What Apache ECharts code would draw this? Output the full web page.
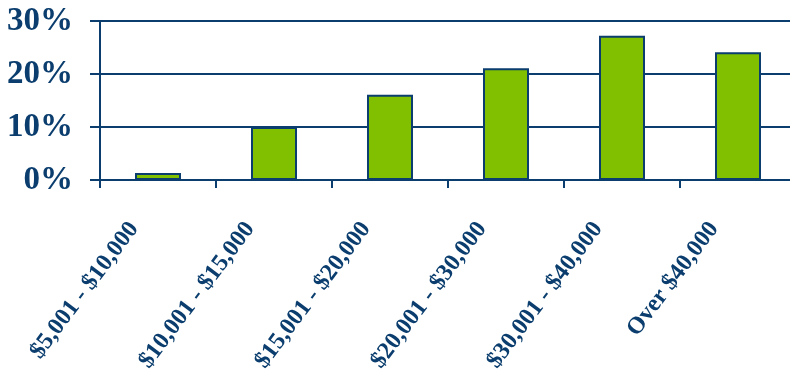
<!DOCTYPE html>
<html>
<head>
<meta charset="utf-8">
<script src="https://cdn.jsdelivr.net/npm/echarts@6/dist/echarts.min.js"></script>
<style>
html,body{margin:0;padding:0;background:#fff;}
#chart{width:790px;height:370px;}
</style>
</head>
<body>
<div id="chart"></div>
<script>
const categories = ['$5,001 - $10,000', '$10,001 - $15,000', '$15,001 - $20,000', '$20,001 - $30,000', '$30,001 - $40,000', 'Over $40,000'];
const shares = [1.3, 10.0, 16.1, 21.1, 27.2, 24.1];
const yTicks = [0, 10, 20, 30];

const navy = '#0b3e6e';
const serif = 'Liberation Serif';
const chart = echarts.init(document.getElementById('chart'), null, {renderer: 'canvas'});
chart.setOption({
  animation: false,
  backgroundColor: '#ffffff',
  grid: {left: 100, top: 21, right: -6, bottom: 190, containLabel: false, outerBoundsMode: 'none'},
  xAxis: {
    type: 'category',
    data: categories,
    boundaryGap: true,
    axisLine: {show: true, lineStyle: {color: navy, width: 2}},
    axisTick: {show: true, length: 8, lineStyle: {color: navy, width: 2}},
    axisLabel: {
      interval: 0,
      rotate: 53,
      margin: 13,
      padding: [0, 40, 0, 0],
      fontFamily: serif,
      fontWeight: 'bold',
      fontSize: 24,
      color: navy
    }
  },
  yAxis: {
    type: 'value',
    min: yTicks[0],
    max: yTicks[yTicks.length - 1],
    interval: 10,
    axisLine: {show: true, lineStyle: {color: navy, width: 2}},
    axisTick: {show: true, length: 10, lineStyle: {color: navy, width: 2}},
    splitLine: {show: true, lineStyle: {color: navy, width: 2}},
    axisLabel: {
      formatter: '{value}%',
      margin: 27,
      fontFamily: serif,
      fontWeight: 'bold',
      fontSize: 33,
      color: navy
    }
  },
  series: [{
    type: 'bar',
    data: shares,
    barWidth: 46,
    itemStyle: {color: '#80c000', borderColor: navy, borderWidth: 2}
  }]
});
</script>
</body>
</html>
